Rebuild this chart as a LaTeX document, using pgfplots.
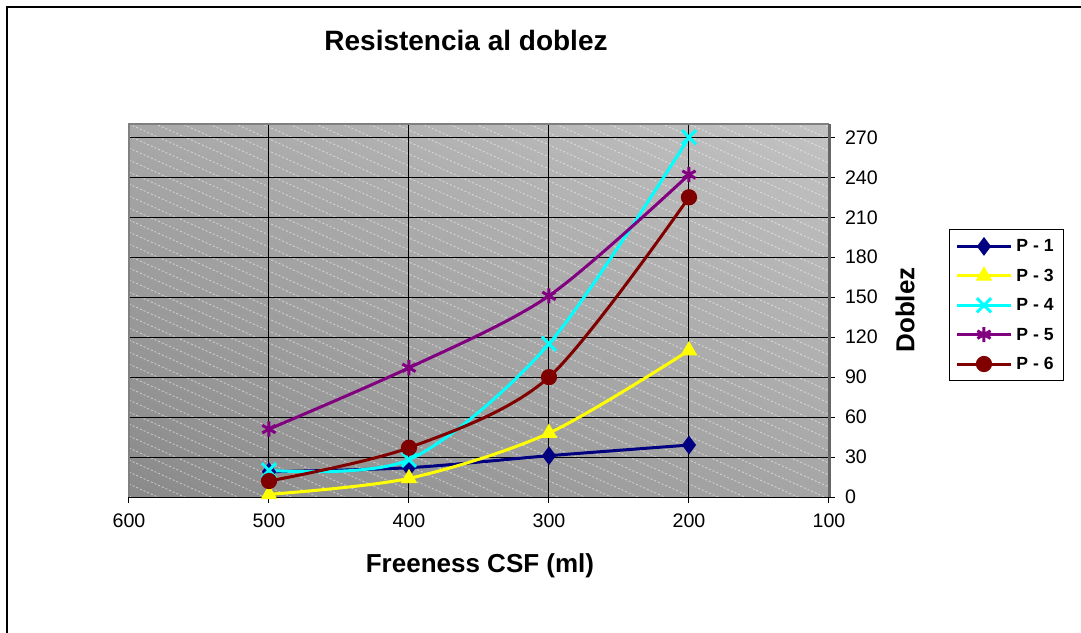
\documentclass[border=0pt]{standalone}
\usepackage{fontspec}
\setmainfont{Liberation Sans}
\usepackage{pgfplots}
\pgfplotsset{compat=1.18}
\usetikzlibrary{shadings}

\definecolor{pnavy}{HTML}{000080}
\definecolor{pyellow}{HTML}{FFFF00}
\definecolor{pcyan}{HTML}{00FFFF}
\definecolor{ppurple}{HTML}{800080}
\definecolor{pred}{HTML}{800000}
\definecolor{bgll}{HTML}{8A8A8A}
\definecolor{bgul}{HTML}{A8A8A8}
\definecolor{bglr}{HTML}{A6A6A6}
\definecolor{bgur}{HTML}{C2C2C2}

\begin{document}
\begin{tikzpicture}
\begin{scope}[x=0.5pt,y=-0.5pt]
\useasboundingbox (0,0) rectangle (1081,632);
% chart frame
\begin{scope}
\clip (0,0) rectangle (1081,632);
\draw[line width=1pt, black] (7,700) -- (7,7) -- (1150,7);
\end{scope}
% plot area: shaded fill with a light dashed diagonal hatch
\shade[upper left=bgul, upper right=bgur, lower left=bgll, lower right=bglr] (129,124) rectangle (829,497);
\begin{scope}
\clip (129,124) rectangle (829,497);
\foreach \k in {-30,...,36}
  \draw[white, opacity=0.5, line width=0.45pt, dash pattern=on 1pt off 1pt]
    (129,124+\k*12) -- (829,124+\k*12+315);
\end{scope}
\end{scope}

\begin{axis}[
  at={(64.5pt,-248.5pt)}, anchor=south west,
  scale only axis, width=350pt, height=186.5pt,
  xmin=100, xmax=600, x dir=reverse,
  ymin=0, ymax=280,
  xtick={100,200,300,400,500,600},
  ytick={0,30,60,90,120,150,180,210,240,270},
  xtick pos=left, ytick pos=right, yticklabel pos=right,
  tick align=outside, major tick length=3pt,
  tick style={black, line width=0.5pt},
  grid=major, grid style={black, line width=0.5pt},
  axis line style={draw=none},
  /pgf/number format/assume math mode=true,
  ticklabel style={font=\fontsize{9.8}{11}\selectfont},
  xticklabel style={yshift=-2pt},
  yticklabel style={xshift=1.5pt},
  legend style={at={(1.1714,0.7185)}, anchor=north west, draw=black, line width=0.5pt,
    fill=white, font=\bfseries\fontsize{8.8}{10}\selectfont, inner xsep=3pt, inner ysep=2.2pt,
    row sep=2.2pt, nodes={text height=7pt, text depth=1.5pt}},
  legend cell align=left,
  legend image code/.code={%
    \draw[mark repeat=2, mark phase=2] plot coordinates {(0pt,0pt) (13.5pt,0pt) (27pt,0pt)};},
  every axis plot/.append style={line width=1.5pt},
]
\addplot[pnavy, smooth, mark=diamond*, mark size=4.3pt, mark options={solid, fill=pnavy, line width=0.5pt}]
  coordinates {(500,19) (400,22) (300,31) (200,39)};
\addlegendentry{P - 1}
\addplot[pyellow, smooth, mark=triangle*, mark size=4.3pt, mark options={fill=pyellow, line width=0.5pt}]
  coordinates {(500,2) (400,14) (300,48) (200,110)};
\addlegendentry{P - 3}
\addplot[pcyan, smooth, mark=x, mark size=5pt, mark options={line width=1.5pt}]
  coordinates {(500,20) (400,28) (300,115) (200,270)};
\addlegendentry{P - 4}
\addplot[ppurple, smooth, mark=asterisk, mark size=3.8pt, mark options={line width=1.5pt}]
  coordinates {(500,51) (400,97) (300,151) (200,242)};
\addlegendentry{P - 5}
\addplot[pred, smooth, mark=*, mark size=3.8pt, mark options={fill=pred, line width=0.5pt}]
  coordinates {(500,12) (400,37) (300,90) (200,225)};
\addlegendentry{P - 6}
\end{axis}

\begin{scope}[x=0.5pt,y=-0.5pt]
% plot area border (left, top, right)
\draw[gray, line width=1pt] (129,497) -- (129,124) -- (829,124);
\draw[black!60, line width=1.3pt] (829.5,124) -- (829.5,497);
% titles
\node[font=\bfseries\fontsize{14}{16}\selectfont] at (466,40) {Resistencia al doblez};
\node[font=\bfseries\fontsize{13}{15}\selectfont] at (480,566) {Freeness CSF (ml)};
\node[font=\bfseries\fontsize{13}{15}\selectfont, rotate=90] at (905,310) {Doblez};
\end{scope}
\end{tikzpicture}
\end{document}
